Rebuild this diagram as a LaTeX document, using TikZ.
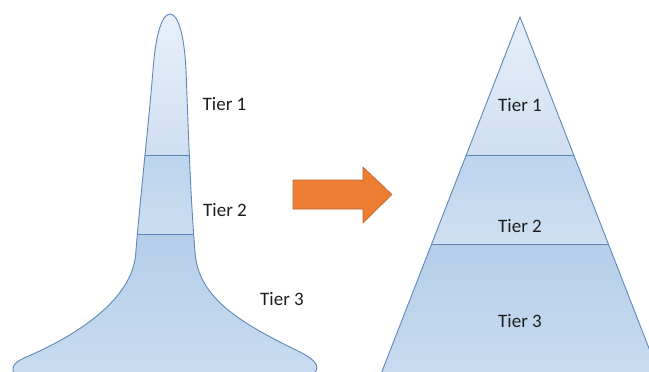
\documentclass[tikz,border=0pt]{standalone}
\usepackage{fontspec}
\setmainfont{Carlito}
\definecolor{edgeblue}{HTML}{5F88B8}
\definecolor{tlight}{HTML}{EAF1FA}
\definecolor{tmid}{HTML}{CFDFF1}
\definecolor{tdark}{HTML}{BCD4EE}
\definecolor{tdarker}{HTML}{B5CEEA}
\definecolor{tbot}{HTML}{C9DCF0}
\definecolor{arroworange}{HTML}{ED7D31}
\definecolor{arrowedge}{HTML}{B86A33}
\definecolor{textcol}{HTML}{1E1E1E}
\tikzset{
  tierlabel/.style={font=\fontsize{19}{22}\selectfont, text=textcol, anchor=base, inner sep=0pt},
  outline/.style={draw=edgeblue, line width=0.9pt},
  tierline/.style={draw=edgeblue, line width=0.9pt}
}
\newcommand{\vaseoutline}{(24,358)
  .. controls (85,332) and (135,295) .. (136,250)
  .. controls (141,190) and (149,120) .. (153,70)
  .. controls (156,30) and (163,14) .. (170,14)
  .. controls (177,14) and (184,30) .. (186,70)
  .. controls (188,120) and (190,190) .. (195,252)
  .. controls (198,300) and (245,325) .. (300,352)
  .. controls (312,358) and (318,364) .. (317,369)
  .. controls (316,373) and (310,377) .. (300,378)
  -- (25,378)
  .. controls (15,377) and (12,372) .. (13,368)
  .. controls (14,363) and (18,361) .. cycle}
\begin{document}
\begin{tikzpicture}[x=1pt,y=-1pt]
\useasboundingbox (0,0) rectangle (649,372);
\clip (0,0) rectangle (649,372);
\fill[white] (0,0) rectangle (649,372);
% left vase shape
\begin{scope}
  \clip \vaseoutline;
  \shade[top color=tlight, bottom color=tmid] (0,0) rectangle (649,155);
  \shade[top color=tdark, bottom color=tmid!80!tdark] (0,155) rectangle (649,234);
  \shade[top color=tdarker, bottom color=tbot] (0,234) rectangle (649,380);
  \draw[tierline] (0,155) -- (649,155);
  \draw[tierline] (0,234) -- (649,234);
\end{scope}
\draw[outline] \vaseoutline;
% pyramid
\begin{scope}
  \clip (520,17) -- (381,374) -- (659,374) -- cycle;
  \shade[top color=tlight, bottom color=tmid] (370,0) rectangle (649,155);
  \shade[top color=tdark, bottom color=tmid] (370,155) rectangle (649,244);
  \shade[top color=tdarker, bottom color=tbot] (370,244) rectangle (649,380);
  \draw[tierline] (370,155) -- (649,155);
  \draw[tierline] (370,244) -- (649,244);
\end{scope}
\draw[outline, line join=miter] (381,374) -- (520,17) -- (659,374);
% arrow
\draw[fill=arroworange, draw=arrowedge, line width=0.6pt] (293,180) -- (363,180) -- (363,167) -- (392,194.5) -- (363,223) -- (363,209) -- (293,209) -- cycle;
% labels
\node[tierlabel] (l1) at (224.5,110) {Tier 1};
\node[tierlabel] (l2) at (225,216) {Tier 2};
\node[tierlabel] (l3) at (282,305) {Tier 3};
\node[tierlabel] (p1) at (520,111) {Tier 1};
\node[tierlabel] (p2) at (520,232) {Tier 2};
\node[tierlabel] (p3) at (520,327) {Tier 3};
\end{tikzpicture}
\end{document}
